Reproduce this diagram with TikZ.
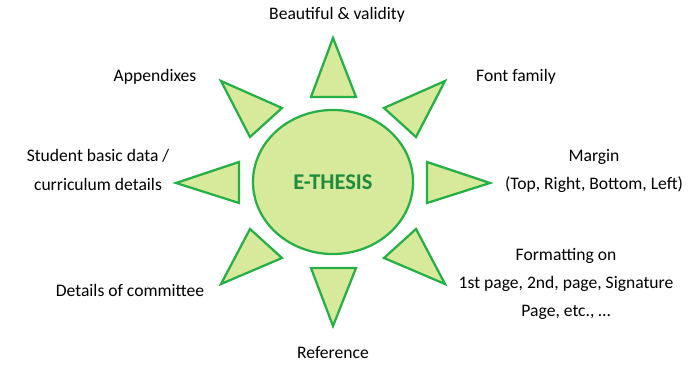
\documentclass[tikz,border=0pt]{standalone}
\usepackage{fontspec}
\setmainfont{Carlito}
\usepackage{xcolor}
\usetikzlibrary{shapes.geometric,positioning}

\definecolor{sunfill}{RGB}{215,233,155}
\definecolor{sunline}{RGB}{37,175,70}
\definecolor{suntext}{RGB}{30,140,60}

\tikzset{
  ray/.style={draw=sunline,fill=sunfill,line width=1.6pt,line join=miter},
  topic/.style={font=\fontsize{12.5}{20}\selectfont,align=center,inner sep=1pt}
}

\begin{document}
\begin{tikzpicture}[x=0.025cm,y=-0.025cm]
\useasboundingbox (0,0) rectangle (694,365);

% Centre of the sun
\node[ellipse,ray,minimum width=4cm,minimum height=3.6cm,
  text=suntext,font=\fontsize{16}{18}\selectfont\bfseries] (core) at (333,182) {E-THESIS};

% Rays
\draw[ray] (333,38) -- (311,97) -- (356,97) -- cycle;   % top
\draw[ray] (445,81) -- (384,108) -- (416,137) -- cycle; % upper right
\draw[ray] (490,183) -- (427,162) -- (427,203) -- cycle;% right
\draw[ray] (445,284) -- (384,258) -- (416,229) -- cycle;% lower right
\draw[ray] (333,326) -- (311,268) -- (356,268) -- cycle;% bottom
\draw[ray] (221,284) -- (282,258) -- (250,229) -- cycle;% lower left
\draw[ray] (176,183) -- (239,162) -- (239,203) -- cycle;% left
\draw[ray] (221,81) -- (282,108) -- (250,137) -- cycle; % upper left

% Topics
\node[topic] (beauty) at (337,15) {Beautiful \& validity};
\node[topic] (font) at (516,77) {Font family};
\node[topic] (margin) at (594,171) {Margin\\(Top, Right, Bottom, Left)};
\node[topic] (format) at (566,284) {Formatting on\\1st page, 2nd, page, Signature\\Page, etc., \dots};
\node[topic] (refer) at (333,353) {Reference};
\node[topic] (committee) at (130,290) {Details of committee};
\node[topic] (student) at (98,170) {Student basic data /\\curriculum details};
\node[topic] (append) at (155,77) {Appendixes};
\end{tikzpicture}
\end{document}
